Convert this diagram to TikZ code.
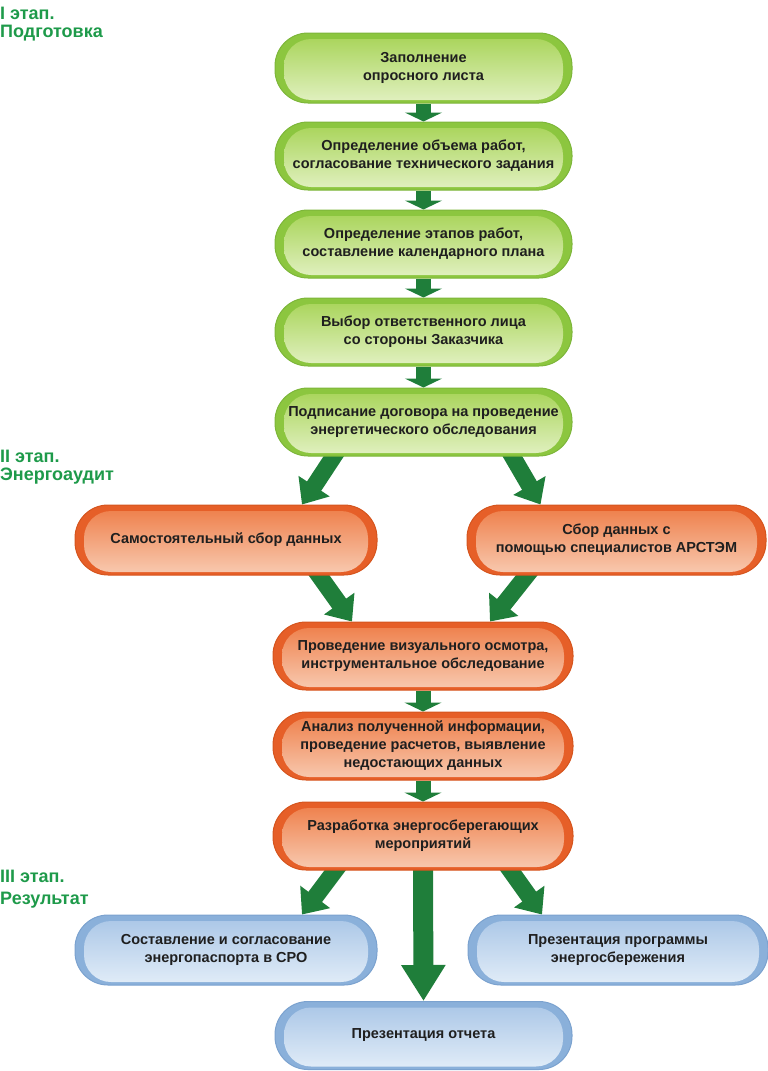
\documentclass[tikz,border=0pt]{standalone}
\usepackage{fontspec}
\setmainfont{Liberation Sans}
\usetikzlibrary{arrows.meta,calc}
\definecolor{grEdge}{HTML}{8CC63F}
\definecolor{grTop}{HTML}{A6D355}
\definecolor{grBot}{HTML}{E2F1C2}
\definecolor{grDraw}{HTML}{7DB63A}
\definecolor{orEdge}{HTML}{E65F28}
\definecolor{orTop}{HTML}{EE7C46}
\definecolor{orBot}{HTML}{F8CBB2}
\definecolor{orDraw}{HTML}{D5551E}
\definecolor{blEdge}{HTML}{8AB0DA}
\definecolor{blTop}{HTML}{A8C5E6}
\definecolor{blBot}{HTML}{E2EDF8}
\definecolor{blDraw}{HTML}{7BA2CF}
\definecolor{arrG}{HTML}{1F7E3A}
\definecolor{stageG}{HTML}{1E9A4A}
\pgfdeclarelayer{bg}
\pgfsetlayers{bg,main}
\tikzset{
  pillbase/.style={rectangle, rounded corners=33pt, minimum height=68pt,
    align=center, inner sep=0pt, line width=1pt, text=black!88,
    font=\bfseries\fontsize{14.5}{18}\selectfont},
  greenpill/.style={pillbase, draw=grDraw, fill=grEdge,
    path picture={\shade[top color=grTop, bottom color=grBot, rounded corners=27pt]
      ([shift={(9pt,-6pt)}]path picture bounding box.north west) rectangle
      ([shift={(-9pt,3pt)}]path picture bounding box.south east);}},
  orangepill/.style={pillbase, draw=orDraw, fill=orEdge,
    path picture={\shade[top color=orTop, bottom color=orBot, rounded corners=27pt]
      ([shift={(9pt,-6pt)}]path picture bounding box.north west) rectangle
      ([shift={(-9pt,3pt)}]path picture bounding box.south east);}},
  bluepill/.style={pillbase, draw=blDraw, fill=blEdge,
    path picture={\shade[top color=blTop, bottom color=blBot, rounded corners=27pt]
      ([shift={(9pt,-6pt)}]path picture bounding box.north west) rectangle
      ([shift={(-9pt,3pt)}]path picture bounding box.south east);}},
  smallarr/.style={draw=arrG, line width=15pt, -{Triangle[width=37pt,length=9pt]}},
  diagarr/.style={draw=arrG, line width=17pt, -{Triangle[width=36pt,length=22pt]}},
  bigarr/.style={draw=arrG, line width=20pt, -{Triangle[width=42pt,length=36pt]}},
  stage/.style={anchor=north west, align=left, inner sep=0pt, text=stageG,
    font=\bfseries\fontsize{18}{18}\selectfont}
}
\begin{document}
\begin{tikzpicture}[x=1pt,y=-1pt]
\useasboundingbox (0,0) rectangle (768,1071);

% stage labels
\node[stage] (st1) at (0,7) {I этап.\\Подготовка};
\node[stage] (st2) at (0,450) {II этап.\\Энергоаудит};
\node[stage] (st3) at (0,870) {III этап.\\[4pt]Результат};

% stage I
\node[greenpill, minimum width=297pt, minimum height=70pt] (b1) at (423.5,68) {Заполнение\\опросного листа};
\node[greenpill, minimum width=297pt] (b2) at (423.5,156) {Определение объема работ,\\согласование технического задания};
\node[greenpill, minimum width=297pt] (b3) at (423.5,244) {Определение этапов работ,\\составление календарного плана};
\node[greenpill, minimum width=297pt] (b4) at (423.5,332) {Выбор ответственного лица\\со стороны Заказчика};
\node[greenpill, minimum width=297pt] (b5) at (423.5,422) {Подписание договора на проведение\\энергетического обследования};

% stage II
\node[orangepill, minimum width=302pt, minimum height=70pt] (o1) at (226,540) {Самостоятельный сбор данных};
\node[orangepill, minimum width=299pt, minimum height=70pt] (o2) at (616.5,540) {Сбор данных с\\помощью специалистов АРСТЭМ};
\node[orangepill, minimum width=300pt] (o3) at (423,656) {Проведение визуального осмотра,\\инструментальное обследование};
\node[orangepill, minimum width=300pt] (o4) at (423,746) {Анализ полученной информации,\\проведение расчетов, выявление\\недостающих данных};
\node[orangepill, minimum width=300pt] (o5) at (423,836) {Разработка энергосберегающих\\мероприятий};

% stage III
\node[bluepill, minimum width=302pt, minimum height=70pt] (c1) at (226,950) {Составление и согласование\\энергопаспорта в СРО};
\node[bluepill, minimum width=300pt, minimum height=70pt] (c2) at (618,950) {Презентация программы\\энергосбережения};
\node[bluepill, minimum width=297pt] (c3) at (423.5,1035.5) {Презентация отчета};

\begin{pgfonlayer}{bg}
\draw[smallarr] (b1.south) -- (b2.north);
\draw[smallarr] (b2.south) -- (b3.north);
\draw[smallarr] (b3.south) -- (b4.north);
\draw[smallarr] (b4.south) -- (b5.north);
\draw[diagarr] ($(b5.south)+(-82,-12)$) -- ($(o1.north)+(76,0)$);
\draw[diagarr] ($(b5.south)+(82,-12)$) -- ($(o2.north)+(-76,0)$);
\draw[diagarr] ($(o1.south)+(86,-10)$) -- ($(o3.north)+(-71,0)$);
\draw[diagarr] ($(o2.south)+(-82,-10)$) -- ($(o3.north)+(67,0)$);
\draw[smallarr] (o3.south) -- (o4.north);
\draw[smallarr] (o4.south) -- (o5.north);
\draw[diagarr] ($(o5.south)+(-79,-12)$) -- ($(c1.north)+(76,0)$);
\draw[diagarr] ($(o5.south)+(79,-12)$) -- ($(c2.north)+(-76,0)$);
\draw[bigarr] ($(o5.south)+(0,-6)$) -- (c3.north);
\end{pgfonlayer}
\end{tikzpicture}
\end{document}
